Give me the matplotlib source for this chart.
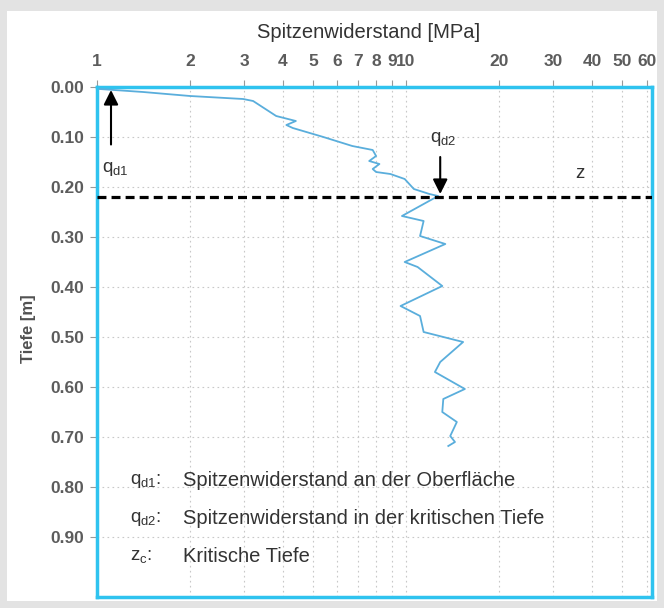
import matplotlib
matplotlib.use("Agg")
import matplotlib.pyplot as plt
from matplotlib.patches import Rectangle
from matplotlib.ticker import FixedLocator, NullLocator

# Sondierkurve: Tiefe [m] und Spitzenwiderstand [MPa]
depth = [0.004, 0.010, 0.018, 0.024, 0.028, 0.058, 0.068, 0.076, 0.082, 0.100,
         0.118, 0.126, 0.138, 0.148, 0.154, 0.164, 0.170, 0.174, 0.184, 0.204,
         0.214, 0.218, 0.258, 0.268, 0.298, 0.314, 0.350, 0.360, 0.398, 0.438,
         0.458, 0.490, 0.510, 0.550, 0.570, 0.604, 0.624, 0.650, 0.670, 0.698,
         0.710, 0.718]
q_c = [1.02, 1.41, 2.0, 2.97, 3.2, 3.8, 4.4, 4.1, 4.3, 5.4,
       6.7, 7.8, 8.0, 7.6, 8.2, 7.8, 8.0, 8.9, 9.9, 10.6,
       11.9, 12.7, 9.7, 11.4, 11.1, 13.4, 9.9, 10.9, 13.1, 9.6,
       11.1, 11.4, 15.3, 12.9, 12.4, 15.5, 13.2, 13.1, 14.6, 13.9,
       14.4, 13.7]

x_ticks = [1, 2, 3, 4, 5, 6, 7, 8, 9, 10, 20, 30, 40, 50, 60]
y_ticks = [0.0, 0.1, 0.2, 0.3, 0.4, 0.5, 0.6, 0.7, 0.8, 0.9]
z_crit = 0.22
q_d1 = 1.11
q_d2 = 12.9

legend_keys = ["q$_{\\mathregular{d1}}$:", "q$_{\\mathregular{d2}}$:", "z$_{\\mathregular{c}}$:"]
legend_text = ["Spitzenwiderstand an der Oberfläche",
               "Spitzenwiderstand in der kritischen Tiefe",
               "Kritische Tiefe"]

plt.rcParams['font.family'] = ['Liberation Sans', 'DejaVu Sans']
txt = '#333333'
cyan = '#2fc3ef'
line_c = '#5aaedc'

fig = plt.figure(figsize=(6.64, 6.08), dpi=100, facecolor='#e3e3e3')
fig.patches.append(Rectangle((7 / 664, 1 - 601 / 608), 650 / 664, 590 / 608,
                             transform=fig.transFigure, facecolor='white',
                             edgecolor='none', zorder=-1))
ax = fig.add_axes([97 / 664, 1 - 597 / 608, 555 / 664, 510 / 608])
ax.set_zorder(2)
ax.set_xscale('log')
ax.set_xlim(1, 62.5)
ax.set_ylim(1.02, 0)

ax.xaxis.set_major_locator(FixedLocator(x_ticks))
ax.xaxis.set_minor_locator(NullLocator())
ax.set_xticklabels([str(t) for t in x_ticks])
ax.set_yticks(y_ticks)
ax.set_yticklabels(['%.2f' % t for t in y_ticks])
ax.xaxis.tick_top()
ax.xaxis.set_label_position('top')
ax.tick_params(axis='both', direction='out', length=5, width=0.8, color='#999999',
               labelcolor=txt, labelsize=12.5)
ax.tick_params(axis='x', pad=8)
ax.tick_params(axis='y', pad=4)
for lab in ax.get_xticklabels() + ax.get_yticklabels():
    lab.set_fontweight('bold')
    lab.set_alpha(0.8)

ax.grid(True, which='major', linestyle=(0, (1.5, 3)), color='#c8c8c8', linewidth=0.8)
for s in ax.spines.values():
    s.set_color(cyan)
    s.set_linewidth(2.5)

ax.set_xlabel('Spitzenwiderstand [MPa]', fontsize=14.5, color=txt)
ax.xaxis.set_label_coords(0.49, 1.096)
ax.set_ylabel('Tiefe [m]', fontsize=12, color=txt, fontweight='bold', alpha=0.85)
ax.yaxis.set_label_coords(-0.11, 0.527)

ax.plot(q_c, depth, color=line_c, linewidth=1.3, zorder=3)
ax.axhline(z_crit, color='black', linewidth=2.3, linestyle=(0, (2.8, 1.6)), zorder=4)

ax.annotate('', xy=(q_d1, 0.006), xytext=(q_d1, 0.115),
            arrowprops=dict(arrowstyle='-|>', color='black', lw=1.5,
                            mutation_scale=22, shrinkA=0, shrinkB=0), zorder=5)
ax.text(1.04, 0.165, 'q$_{\\mathregular{d1}}$', fontsize=13.5, color=txt,
        ha='left', va='center')
ax.annotate('', xy=(q_d2, 0.214), xytext=(q_d2, 0.14),
            arrowprops=dict(arrowstyle='-|>', color='black', lw=1.5,
                            mutation_scale=22, shrinkA=0, shrinkB=0), zorder=5)
ax.text(q_d2 + 0.3, 0.103, 'q$_{\\mathregular{d2}}$', fontsize=13.5, color=txt,
        ha='center', va='center')
ax.text(36.5, 0.174, 'z', fontsize=13.5, color=txt, ha='center', va='center')

for i, (k, t) in enumerate(zip(legend_keys, legend_text)):
    yy = 0.788 + i * 0.076
    ax.text(1.28, yy, k, fontsize=13.5, color=txt, ha='left', va='center')
    ax.text(1.90, yy, t, fontsize=14.5, color=txt, ha='left', va='center')

fig.savefig('out.png', dpi=100, facecolor=fig.get_facecolor())
